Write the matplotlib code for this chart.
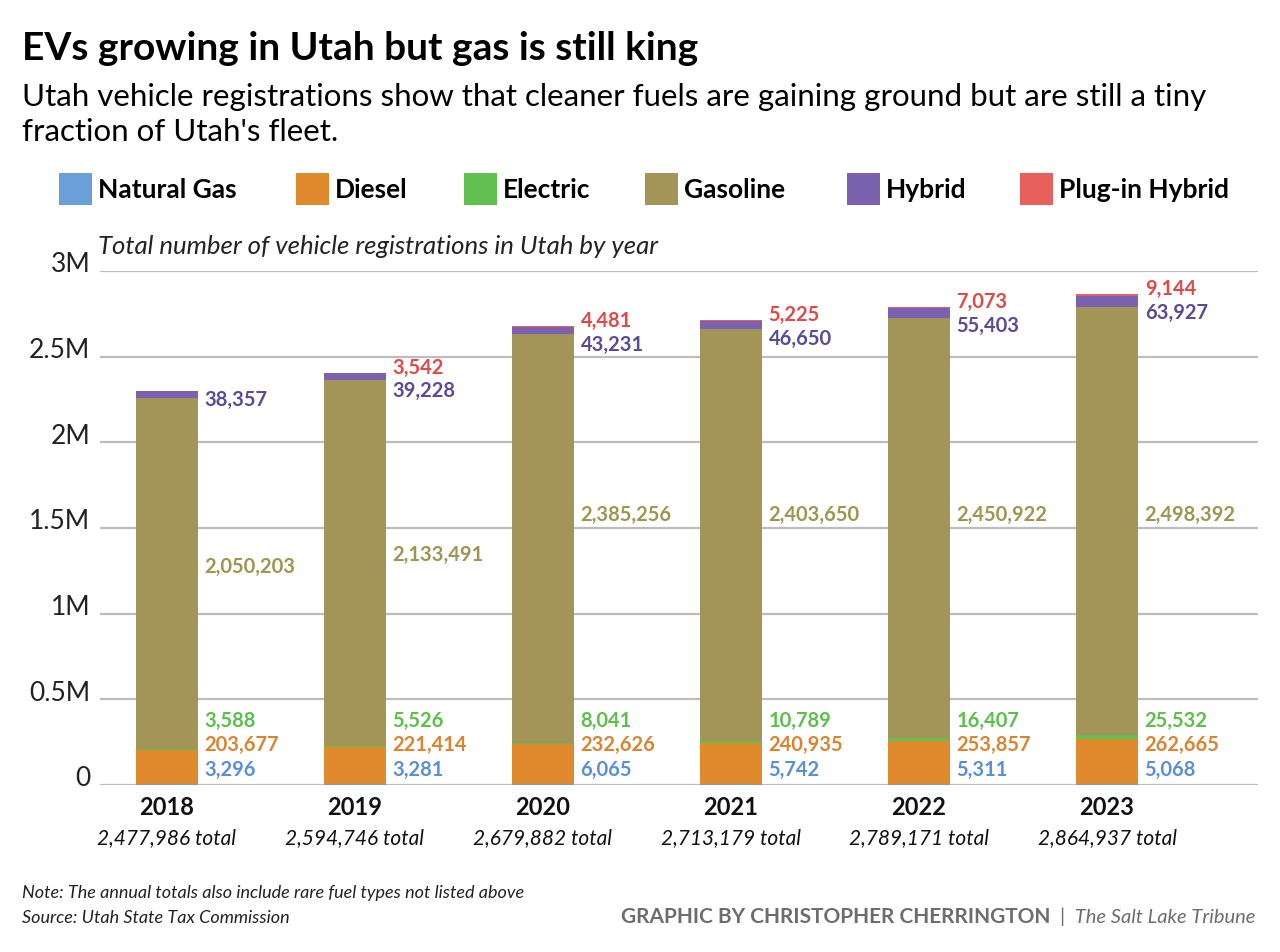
import matplotlib.pyplot as plt

years = ['2018', '2019', '2020', '2021', '2022', '2023']
totals = ['2,477,986', '2,594,746', '2,679,882', '2,713,179', '2,789,171', '2,864,937']

natural_gas = [3296, 3281, 6065, 5742, 5311, 5068]
diesel = [203677, 221414, 232626, 240935, 253857, 262665]
electric = [3588, 5526, 8041, 10789, 16407, 25532]
gasoline = [2050203, 2133491, 2385256, 2403650, 2450922, 2498392]
hybrid = [38357, 39228, 43231, 46650, 55403, 63927]
plugin = [None, 3542, 4481, 5225, 7073, 9144]   # 2018 not shown in the source

yticks = [0, 500000, 1000000, 1500000, 2000000, 2500000, 3000000]
ytick_labels = ['0', '0.5M', '1M', '1.5M', '2M', '2.5M', '3M']

series = [('Natural Gas', natural_gas, '#6a9fd8', '#5b8fd4'),
          ('Diesel', diesel, '#e08a2e', '#db8430'),
          ('Electric', electric, '#62c050', '#5bbf4a'),
          ('Gasoline', gasoline, '#a39557', '#9e9550'),
          ('Hybrid', hybrid, '#7b62b0', '#574c96'),
          ('Plug-in Hybrid', plugin, '#e8605c', '#e24848')]

# layout: where the gasoline labels sit (data units), legend square x (px)
gas_label_y = [1272000, 1342000, 1575000, 1575000, 1575000, 1575000]
legend_x = [59, 296, 464, 645, 847, 1020]

SANS = ['Lato', 'DejaVu Sans']

fig = plt.figure(figsize=(12.8, 9.52), dpi=100)
W, H = 1280, 952

def fx(px):
    return px / W

def fy(py):
    return 1 - py / H

# header
fig.text(fx(22), fy(48), 'EVs growing in Utah but gas is still king', family=SANS,
         fontsize=28, fontweight='bold', va='center', ha='left')
fig.text(fx(22), fy(97), 'Utah vehicle registrations show that cleaner fuels are gaining ground but are still a tiny',
         family=SANS, fontsize=22.5, va='center', ha='left')
fig.text(fx(22), fy(132), "fraction of Utah's fleet.", family=SANS, fontsize=22.5, va='center', ha='left')

# legend
for (name, vals, col, tcol), lx in zip(series, legend_x):
    fig.patches.append(plt.Rectangle((fx(lx), fy(205)), 33 / W, 32 / H, transform=fig.transFigure,
                                     facecolor=col, edgecolor='none'))
    fig.text(fx(lx + 39), fy(190), name, family=SANS, fontsize=19, fontweight='bold',
             va='center', ha='left')

ax = fig.add_axes([fx(100), fy(785), fx(1258) - fx(100), (785 - 271) / H])
x = list(range(len(years)))
width = 0.33

bottom = [0] * len(years)
for name, vals, col, tcol in series:
    v = [0 if val is None else val for val in vals]
    ax.bar(x, v, width, bottom=bottom, color=col, edgecolor='none', zorder=3)
    bottom = [b + val for b, val in zip(bottom, v)]

ax.set_xlim(-0.356, 5.803)
ax.set_ylim(0, 3000000)
for s in ax.spines.values():
    s.set_visible(False)
ax.set_xticks([])
ax.set_yticks([])
for yt, lab in zip(yticks, ytick_labels):
    ax.axhline(yt, color='#bdbdbd', linewidth=1.6, zorder=1)
    ax.annotate(lab, (0, yt), xycoords=('axes fraction', 'data'), xytext=(-7, -1),
                textcoords='offset points', ha='right', va='baseline', fontsize=19,
                family=SANS, color='#222222')

ax.text(-0.002, 1.047, 'Total number of vehicle registrations in Utah by year', transform=ax.transAxes,
        family=SANS, style='italic', fontsize=18.5, va='center', ha='left', color='#222222')

lab_kw = dict(textcoords='offset points', ha='left', va='center', fontsize=14.5,
              fontweight='bold', family=SANS, zorder=5)
lx_off = width / 2 + 0.035
for i in x:
    # small series stacked under the bar's right side
    for k, (vals, tcol) in enumerate([(natural_gas, series[0][3]), (diesel, series[1][3]),
                                      (electric, series[2][3])]):
        ax.annotate(f'{vals[i]:,}', (i + lx_off, 0), xytext=(0, 11 + k * 17.6),
                    color=tcol, **lab_kw)
    ax.annotate(f'{gasoline[i]:,}', (i + lx_off, gas_label_y[i]), xytext=(0, 0),
                color=series[3][3], **lab_kw)
    top = natural_gas[i] + diesel[i] + electric[i] + gasoline[i] + hybrid[i] + (plugin[i] or 0)
    if plugin[i] is None:
        ax.annotate(f'{hybrid[i]:,}', (i + lx_off, top), xytext=(0, -6.5),
                    color=series[4][3], **lab_kw)
    else:
        ax.annotate(f'{hybrid[i]:,}', (i + lx_off, top), xytext=(0, -13.5),
                    color=series[4][3], **lab_kw)
        ax.annotate(f'{plugin[i]:,}', (i + lx_off, top), xytext=(0, 3.5),
                    color=series[5][3], **lab_kw)
    # year and total below
    ax.annotate(years[i], (i, 0), xytext=(0, -16.5), textcoords='offset points', ha='center',
                va='center', fontsize=17, fontweight='bold', family=SANS, color='#111111')
    ax.annotate(totals[i] + ' total', (i, 0), xytext=(0, -38), textcoords='offset points',
                ha='center', va='center', fontsize=15, style='italic', family=SANS,
                color='#111111')

# footer
fig.text(fx(22), fy(893), 'Note: The annual totals also include rare fuel types not listed above',
         family=SANS, style='italic', fontsize=13, va='center', ha='left', color='#222222')
fig.text(fx(22), fy(918), 'Source: Utah State Tax Commission', family=SANS, style='italic',
         fontsize=13, va='center', ha='left', color='#222222')
fig.text(fx(1050), fy(917), 'GRAPHIC BY CHRISTOPHER CHERRINGTON', family=SANS, fontweight='bold',
         fontsize=15, va='center', ha='right', color='#6d6d6d')
fig.text(fx(1060), fy(917), '|  The Salt Lake Tribune', family=SANS, style='italic',
         fontsize=14.5, va='center', ha='left', color='#6d6d6d')

fig.savefig('out.png', dpi=100, facecolor='white')
